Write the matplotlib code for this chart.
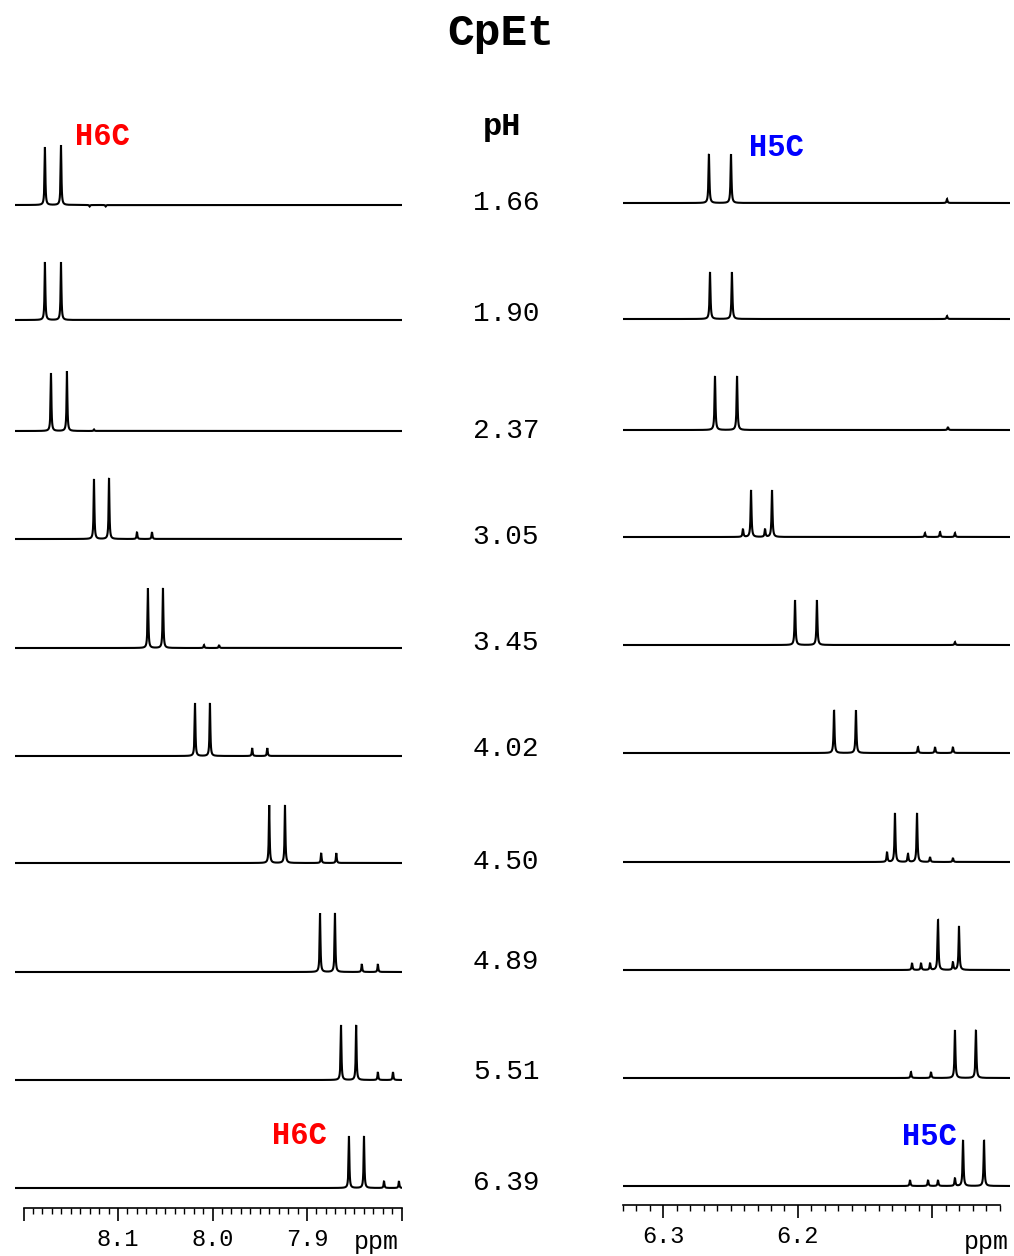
import numpy as np
import matplotlib.pyplot as plt
from matplotlib.ticker import FixedLocator

plt.rcParams['font.family'] = ['Liberation Mono', 'DejaVu Sans Mono']

# pH of each trace, top to bottom
ph = ['1.66', '1.90', '2.37', '3.05', '3.45', '4.02', '4.50', '4.89', '5.51', '6.39']

# H6C region (ppm) : peak positions and heights for each pH
h6c_pos = [
    [8.1773, 8.1603, 8.1300, 8.1130],
    [8.1773, 8.1603],
    [8.1709, 8.1540, 8.1254],
    [8.1254, 8.1095, 8.0799, 8.0640],
    [8.0683, 8.0524, 8.0090, 7.9930],
    [8.0185, 8.0027, 7.9580, 7.9420],
    [7.9400, 7.9233, 7.8850, 7.8690],
    [7.8862, 7.8704, 7.8420, 7.8250],
    [7.8640, 7.8480, 7.8250, 7.8090],
    [7.8556, 7.8397, 7.8185, 7.8027],
]
h6c_int = [
    [58, 60, -1.5, -1.5],
    [58, 58],
    [58, 60, 1.5],
    [60, 61, 7, 7],
    [60, 60, 3, 3],
    [53, 53, 8, 8],
    [58, 58, 10, 10],
    [59, 59, 8, 8],
    [55, 55, 8, 8],
    [52, 52, 7, 7],
]

# H5C region (ppm)
h5c_pos = [
    [6.2661, 6.2497, 6.0891],
    [6.2653, 6.2490, 6.0891],
    [6.2616, 6.2452, 6.0884],
    [6.2348, 6.2192, 6.2408, 6.2244, 6.1055, 6.0943, 6.0832],
    [6.2021, 6.1858, 6.0832],
    [6.1731, 6.1568, 6.1107, 6.0980, 6.0847],
    [6.1278, 6.1114, 6.1337, 6.1181, 6.1017, 6.0847],
    [6.0958, 6.0802, 6.1151, 6.1084, 6.1017, 6.0847],
    [6.0832, 6.0676, 6.1159, 6.1010],
    [6.0772, 6.0616, 6.1166, 6.1032, 6.0958, 6.0832],
]
h5c_int = [
    [49, 49, 4],
    [47, 47, 3],
    [54, 54, 3],
    [47, 47, 8, 8, 4, 5, 4],
    [45, 45, 3],
    [43, 43, 6, 6, 6],
    [49, 49, 10, 8, 5, 4],
    [50, 44, 7, 7, 7, 8],
    [48, 48, 6, 6],
    [46, 46, 6, 6, 6, 8],
]

W, H = 1014, 1256
base_l = [205, 320, 431, 539, 648, 756, 863, 972, 1080, 1188]
base_r = [203, 319, 430, 537, 645, 753, 862, 970, 1078, 1186]
ph_y = [203, 314, 431, 537, 643, 749, 862, 962, 1072, 1183]


def spectrum(x, pos, amp, g):
    y = np.zeros_like(x)
    for p, a in zip(pos, amp):
        y += a * g**2 / ((x - p)**2 + g**2)
    return y


fig = plt.figure(figsize=(W / 100, H / 100), dpi=100)

axL = fig.add_axes([15 / W, 0, (402 - 15) / W, 1])
axR = fig.add_axes([623 / W, 0, (1010 - 623) / W, 1])
axL.set_xlim(8.209, 7.7995)
axR.set_xlim(6.33, 6.0423)

xl = np.linspace(7.7995, 8.209, 8000)
xr = np.linspace(6.0423, 6.33, 8000)
for i in range(len(ph)):
    axL.plot(xl, base_l[i] - spectrum(xl, h6c_pos[i], h6c_int[i], 0.0005),
             color='black', lw=1.5, solid_joinstyle='miter')
    axR.plot(xr, base_r[i] - spectrum(xr, h5c_pos[i], h5c_int[i], 0.0004),
             color='black', lw=1.5, solid_joinstyle='miter')

for ax, ybar, lo, hi, major, labels in [
        (axL, 1208, 7.8, 8.2, [8.2, 8.1, 8.0, 7.9, 7.8], ['', '8.1', '8.0', '7.9', '']),
        (axR, 1205, 6.05, 6.33, [6.3, 6.2, 6.1], ['6.3', '6.2', ''])]:
    ax.set_ylim(H, 0)
    for s in ['top', 'left', 'right']:
        ax.spines[s].set_visible(False)
    ax.spines['bottom'].set_position(('data', ybar))
    ax.spines['bottom'].set_bounds(lo, hi)
    ax.spines['bottom'].set_linewidth(1.2)
    ax.xaxis.set_major_locator(FixedLocator(major))
    ax.set_xticklabels(labels)
    ax.xaxis.set_minor_locator(FixedLocator(np.round(np.arange(lo, hi + 0.001, 0.01), 2)))
    ax.tick_params(axis='x', which='major', length=9.5, width=1.2, pad=5, labelsize=17)
    ax.tick_params(axis='x', which='minor', length=4, width=1.0)
    ax.yaxis.set_visible(False)
    ax.patch.set_visible(False)

fig.text(376 / W, 1 - 1242 / H, 'ppm', fontsize=18, ha='center', va='center')
fig.text(986 / W, 1 - 1242 / H, 'ppm', fontsize=18, ha='center', va='center')

fig.text(501 / W, 1 - 33 / H, 'CpEt', fontsize=32, fontweight='bold', ha='center', va='center')
fig.text(502 / W, 1 - 127 / H, 'pH', fontsize=23, fontweight='bold', ha='center', va='center')
for p, y in zip(ph, ph_y):
    fig.text(506 / W, 1 - y / H, p, fontsize=20, ha='center', va='center')

fig.text(102 / W, 1 - 137 / H, 'H6C', fontsize=22, fontweight='bold', color='#ff0000',
         ha='center', va='center')
fig.text(299 / W, 1 - 1136 / H, 'H6C', fontsize=22, fontweight='bold', color='#ff0000',
         ha='center', va='center')
fig.text(776 / W, 1 - 148 / H, 'H5C', fontsize=22, fontweight='bold', color='#0000ff',
         ha='center', va='center')
fig.text(929 / W, 1 - 1137 / H, 'H5C', fontsize=22, fontweight='bold', color='#0000ff',
         ha='center', va='center')

fig.savefig('out.png', dpi=100, facecolor='white')
plt.close()
